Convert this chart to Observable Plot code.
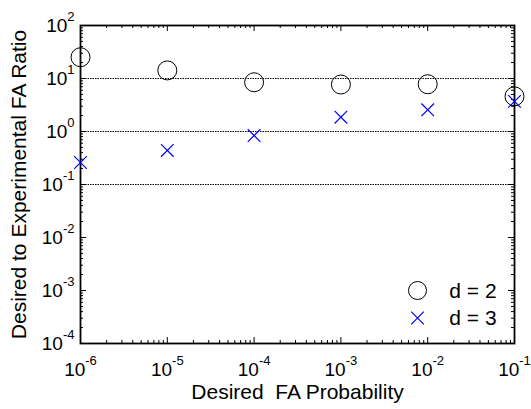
<!DOCTYPE html>
<html>
<head>
<meta charset="utf-8">
<script src="https://cdn.jsdelivr.net/npm/d3@7"></script>
<script src="https://cdn.jsdelivr.net/npm/@observablehq/plot@0.6"></script>
<style>
  html, body { margin: 0; padding: 0; background: #ffffff; }
  #chart svg { overflow: visible; display: block; }
</style>
</head>
<body>
<div id="chart"></div>
<script>
// ---- data ----
const faProb = [1e-6, 1e-5, 1e-4, 1e-3, 1e-2, 1e-1];
const ratioD2 = [25.2, 14.2, 8.5, 7.7, 7.8, 4.6];
const ratioD3 = [0.26, 0.44, 0.84, 1.86, 2.57, 3.7];
const seriesLabels = ["d = 2", "d = 3"];
const xTickValues = [1e-6, 1e-5, 1e-4, 1e-3, 1e-2, 1e-1];
const xTickExponents = ["-6", "-5", "-4", "-3", "-2", "-1"];
const yTickValues = [1e-4, 1e-3, 1e-2, 1e-1, 1e0, 1e1, 1e2];
const yTickExponents = ["-4", "-3", "-2", "-1", "0", "1", "2"];
const gridValues = [10, 1, 0.1];
const xLabel = "Desired  FA Probability";
const yLabel = "Desired to Experimental FA Ratio";

// minor (2..9) log ticks between the major decades
function minorTicks(majors) {
  const out = [];
  for (let i = 0; i < majors.length - 1; i++)
    for (let m = 2; m <= 9; m++) out.push(majors[i] * m);
  return out;
}
const xMinor = minorTicks(xTickValues);
const yMinor = minorTicks(yTickValues);

const d2 = faProb.map((x, i) => ({x, y: ratioD2[i]}));
const d3data = faProb.map((x, i) => ({x, y: ratioD3[i]}));

const W = 531, H = 409;
const mT = 25, mR = 17, mB = 66, mL = 80;
const pw = W - mL - mR, ph = H - mT - mB;
const major = 6, minor = 3;
const font = "Liberation Sans, Arial, Helvetica, sans-serif";
const xExp = new Map(xTickValues.map((v, i) => [v, xTickExponents[i]]));
const yExp = new Map(yTickValues.map((v, i) => [v, yTickExponents[i]]));

const chart = Plot.plot({
  width: W, height: H,
  marginTop: mT, marginRight: mR, marginBottom: mB, marginLeft: mL,
  style: {fontFamily: font, background: "#ffffff", color: "#000000"},
  x: {type: "log", domain: [1e-6, 1e-1]},
  y: {type: "log", domain: [1e-4, 1e2]},
  marks: [
    Plot.ruleY(gridValues, {stroke: "#000", strokeWidth: 1, strokeDasharray: "1.5,1"}),
    // inward ticks, all four sides
    Plot.tickX(xTickValues, {x: d => d, insetTop: ph - major, stroke: "#000"}),
    Plot.tickX(xTickValues, {x: d => d, insetBottom: ph - major, stroke: "#000"}),
    Plot.tickX(xMinor, {x: d => d, insetTop: ph - minor, stroke: "#000"}),
    Plot.tickX(xMinor, {x: d => d, insetBottom: ph - minor, stroke: "#000"}),
    Plot.tickY(yTickValues, {y: d => d, insetRight: pw - major, stroke: "#000"}),
    Plot.tickY(yTickValues, {y: d => d, insetLeft: pw - major, stroke: "#000"}),
    Plot.tickY(yMinor, {y: d => d, insetRight: pw - minor, stroke: "#000"}),
    Plot.tickY(yMinor, {y: d => d, insetLeft: pw - minor, stroke: "#000"}),
    Plot.frame({stroke: "#000", strokeWidth: 1.8}),
    Plot.axisX(xTickValues, {
      anchor: "bottom", tickSize: 0, tickPadding: 19, fontSize: 19,
      tickFormat: d => "10^" + xExp.get(d), label: null
    }),
    Plot.axisY(yTickValues, {
      anchor: "left", tickSize: 0, tickPadding: 6, fontSize: 19,
      tickFormat: d => "10^" + yExp.get(d), label: null
    }),
    Plot.text([xLabel], {frameAnchor: "bottom", dy: 49, lineAnchor: "middle", textAnchor: "middle", text: d => d, fontSize: 21}),
    Plot.text([yLabel], {frameAnchor: "left", dx: -61, rotate: -90, lineAnchor: "middle", textAnchor: "middle", text: d => d, fontSize: 21}),
    // data
    Plot.dot(d2, {x: "x", y: "y", r: 9.5, stroke: "#000", fill: "none", strokeWidth: 1}),
    Plot.dot(d3data, {x: "x", y: "y", symbol: "times", r: 5.8, stroke: "#0000ff", strokeWidth: 1.2}),
    // legend
    Plot.dot([seriesLabels[0]], {frameAnchor: "bottom-right", dx: -97, dy: -53, r: 9, stroke: "#000", fill: "none", strokeWidth: 1}),
    Plot.dot([seriesLabels[1]], {frameAnchor: "bottom-right", dx: -97, dy: -25.5, symbol: "times", r: 5.8, stroke: "#0000ff", strokeWidth: 1.2}),
    Plot.text([seriesLabels[0]], {frameAnchor: "bottom-right", dx: -41.5, dy: -52, textAnchor: "middle", lineAnchor: "middle", text: d => d, fontSize: 21}),
    Plot.text([seriesLabels[1]], {frameAnchor: "bottom-right", dx: -41.5, dy: -25, textAnchor: "middle", lineAnchor: "middle", text: d => d, fontSize: 21})
  ]
});

// turn "10^e" tick labels into 10 with a superscript exponent
chart.querySelectorAll('g[aria-label="x-axis tick label"] text, g[aria-label="y-axis tick label"] text').forEach(t => {
  const s = t.textContent;
  const k = s.indexOf("^");
  if (k < 0) return;
  const base = s.slice(0, k), exp = s.slice(k + 1);
  t.textContent = base;
  const ts = document.createElementNS("http://www.w3.org/2000/svg", "tspan");
  ts.setAttribute("dy", "-11");
  ts.setAttribute("font-size", "13");
  ts.textContent = exp;
  t.appendChild(ts);
});

document.getElementById("chart").appendChild(chart);
</script>
</body>
</html>
